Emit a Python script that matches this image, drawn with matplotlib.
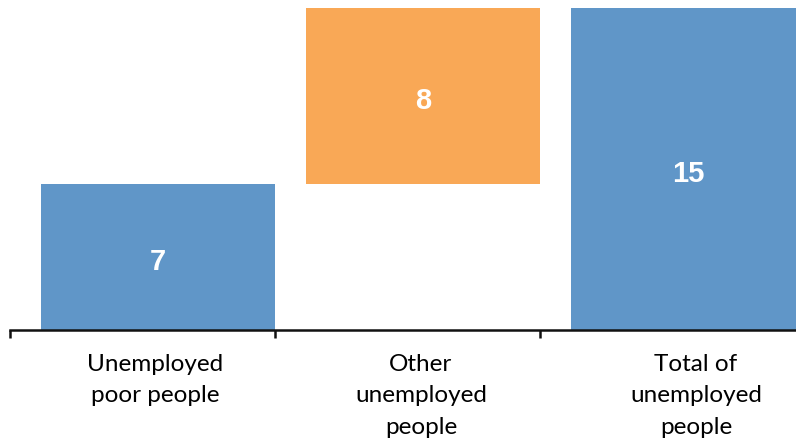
import matplotlib
matplotlib.use("Agg")
import matplotlib.pyplot as plt
from matplotlib.transforms import offset_copy, ScaledTranslation

categories = ["Unemployed\npoor people", "Other\nunemployed\npeople", "Total of\nunemployed\npeople"]
values = [6.8, 8.2, 15.0]
bottoms = [0.0, 6.8, 0.0]
labels = ["7", "8", "15"]
colors = ["#6096C8", "#F9A856", "#6096C8"]

fig = plt.figure(figsize=(7.96, 4.43), dpi=100)
ax = fig.add_axes([10/796, 113/443, 786/796, 330/443])

x = list(range(len(categories)))
w = 0.883
ax.bar(x, values, bottom=bottoms, width=w, color=colors, edgecolor="none")
tr = offset_copy(ax.transData, fig=fig, x=0, y=-2, units="dots")
for xi, v, b, lab in zip(x, values, bottoms, labels):
    ax.text(xi, b + v/2, lab, ha="center", va="center_baseline", color="white",
            fontsize=21, fontweight="bold", family="Liberation Sans", transform=tr)

ax.set_xlim(-0.5585, 2.408)
ax.set_ylim(0, 15*330/322)

for s in ["top", "right", "left"]:
    ax.spines[s].set_visible(False)
ax.spines["bottom"].set_linewidth(1.8)
ax.spines["bottom"].set_color("#111111")
ax.set_yticks([])

ax.set_xticks(x)
ax.set_xticklabels(categories, family="Lato", fontsize=17.5, linespacing=1.63)
ax.tick_params(axis="x", which="major", length=0, pad=17)
ax.set_xticks([-0.5585, 0.4415, 1.4415], minor=True)
ax.tick_params(axis="x", which="minor", length=6, width=1.8, color="#111111")

shifts = [-3, -2, 8]
for lbl, dx in zip(ax.get_xticklabels(), shifts):
    lbl.set_transform(lbl.get_transform() + ScaledTranslation(dx/100, 0, fig.dpi_scale_trans))

fig.savefig("out.png", dpi=100)
